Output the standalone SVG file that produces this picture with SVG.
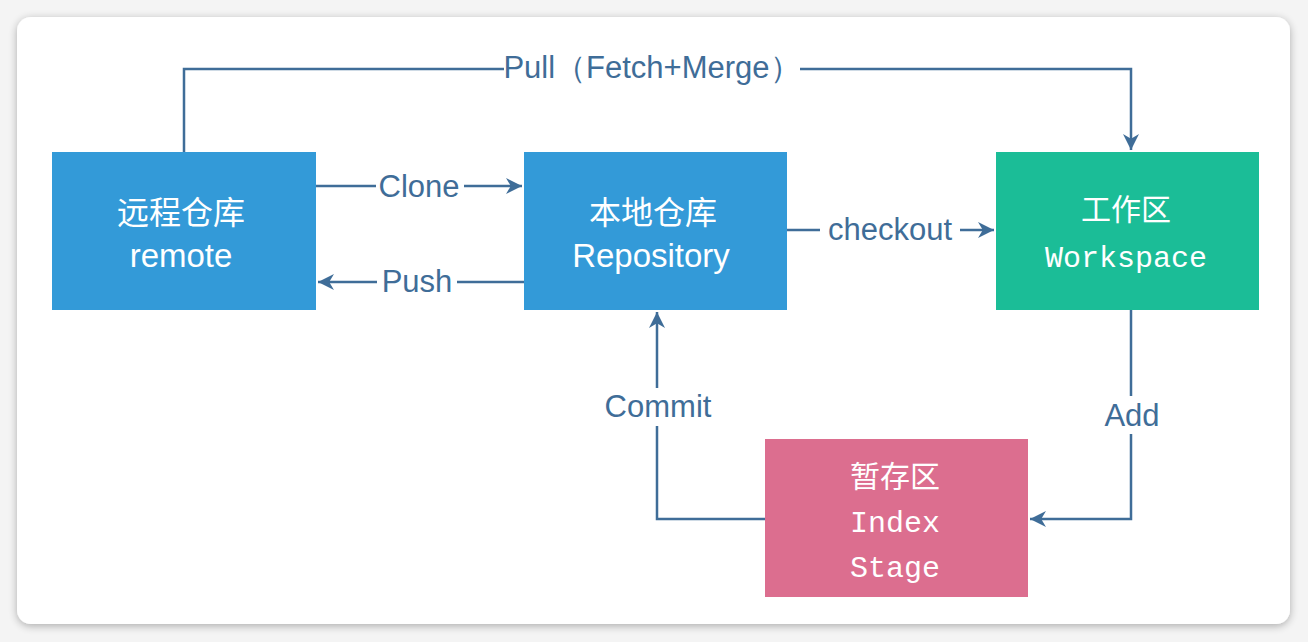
<svg xmlns="http://www.w3.org/2000/svg" width="1308" height="642" viewBox="0 0 1308 642">
<defs>
<filter id="sh" x="-5%" y="-5%" width="110%" height="110%">
<feGaussianBlur in="SourceAlpha" stdDeviation="4"/>
<feOffset dx="0" dy="2"/>
<feComponentTransfer><feFuncA type="linear" slope="0.3"/></feComponentTransfer>
<feMerge><feMergeNode/><feMergeNode in="SourceGraphic"/></feMerge>
</filter>
<marker id="ah" viewBox="0 0 10 10" refX="10" refY="5" markerWidth="16" markerHeight="16" markerUnits="userSpaceOnUse" orient="auto">
<path d="M0,0 L10,5 L0,10 L3,5 Z" fill="#3f6d98"/>
</marker>
</defs>
<style>
.e{fill:none;stroke:#3f6d98;stroke-width:2.5}
.lbl{font-family:"Liberation Sans",Arial,sans-serif;font-size:31px;fill:#3f6d98;text-anchor:middle}
.nt{font-family:"Liberation Sans","Noto Sans CJK SC",sans-serif;fill:#ffffff;text-anchor:middle;font-size:33px}
.cjk{font-family:"Noto Sans CJK SC",sans-serif;fill:#ffffff;text-anchor:middle;font-size:32px}
.mono{font-family:"Liberation Mono","Noto Sans CJK SC",monospace;fill:#ffffff;text-anchor:middle;font-size:30px}
</style>
<rect width="1308" height="642" fill="#f4f4f4"/>
<rect x="17" y="17" width="1273" height="607" rx="14" fill="#ffffff" filter="url(#sh)"/>
<g id="connectors">
<polyline class="e" points="184,152 184,69 1131,69 1131,150" marker-end="url(#ah)"/>
<rect x="504" y="50" width="296" height="36" fill="#ffffff"/>
<text class="lbl" x="652" y="78">Pull（Fetch+Merge）</text>
<line class="e" x1="316" y1="186" x2="522" y2="186" marker-end="url(#ah)"/>
<rect x="376" y="170" width="88" height="34" fill="#ffffff"/>
<text class="lbl" x="419" y="197">Clone</text>
<line class="e" x1="524" y1="282" x2="318" y2="282" marker-end="url(#ah)"/>
<rect x="377" y="266" width="80" height="34" fill="#ffffff"/>
<text class="lbl" x="417" y="292">Push</text>
<line class="e" x1="787" y1="230" x2="994" y2="230" marker-end="url(#ah)"/>
<rect x="820" y="213" width="140" height="34" fill="#ffffff"/>
<text class="lbl" x="890" y="240">checkout</text>
<polyline class="e" points="1131,310 1131,519 1030,519" marker-end="url(#ah)"/>
<rect x="1100" y="396" width="64" height="38" fill="#ffffff"/>
<text class="lbl" x="1132" y="426">Add</text>
<polyline class="e" points="765,519 657,519 657,312" marker-end="url(#ah)"/>
<rect x="596" y="388" width="124" height="38" fill="#ffffff"/>
<text class="lbl" x="658" y="417">Commit</text>
</g>
<g id="remote">
<rect x="52" y="152" width="264" height="158" fill="#339ad8"/>
<text class="cjk" x="181" y="224">远程仓库</text>
<text class="nt" x="181" y="267">remote</text>
</g>
<g id="repository">
<rect x="524" y="152" width="263" height="158" fill="#339ad8"/>
<text class="cjk" x="653" y="224">本地仓库</text>
<text class="nt" x="651" y="267">Repository</text>
</g>
<g id="workspace">
<rect x="996" y="152" width="263" height="158" fill="#1bbd97"/>
<text class="mono" x="1126" y="220">工作区</text>
<text class="mono" x="1126" y="267">Workspace</text>
</g>
<g id="index">
<rect x="765" y="439" width="263" height="158" fill="#dc6e8f"/>
<text class="mono" x="895" y="487">暂存区</text>
<text class="mono" x="895" y="532">Index</text>
<text class="mono" x="895" y="577">Stage</text>
</g>
</svg>
